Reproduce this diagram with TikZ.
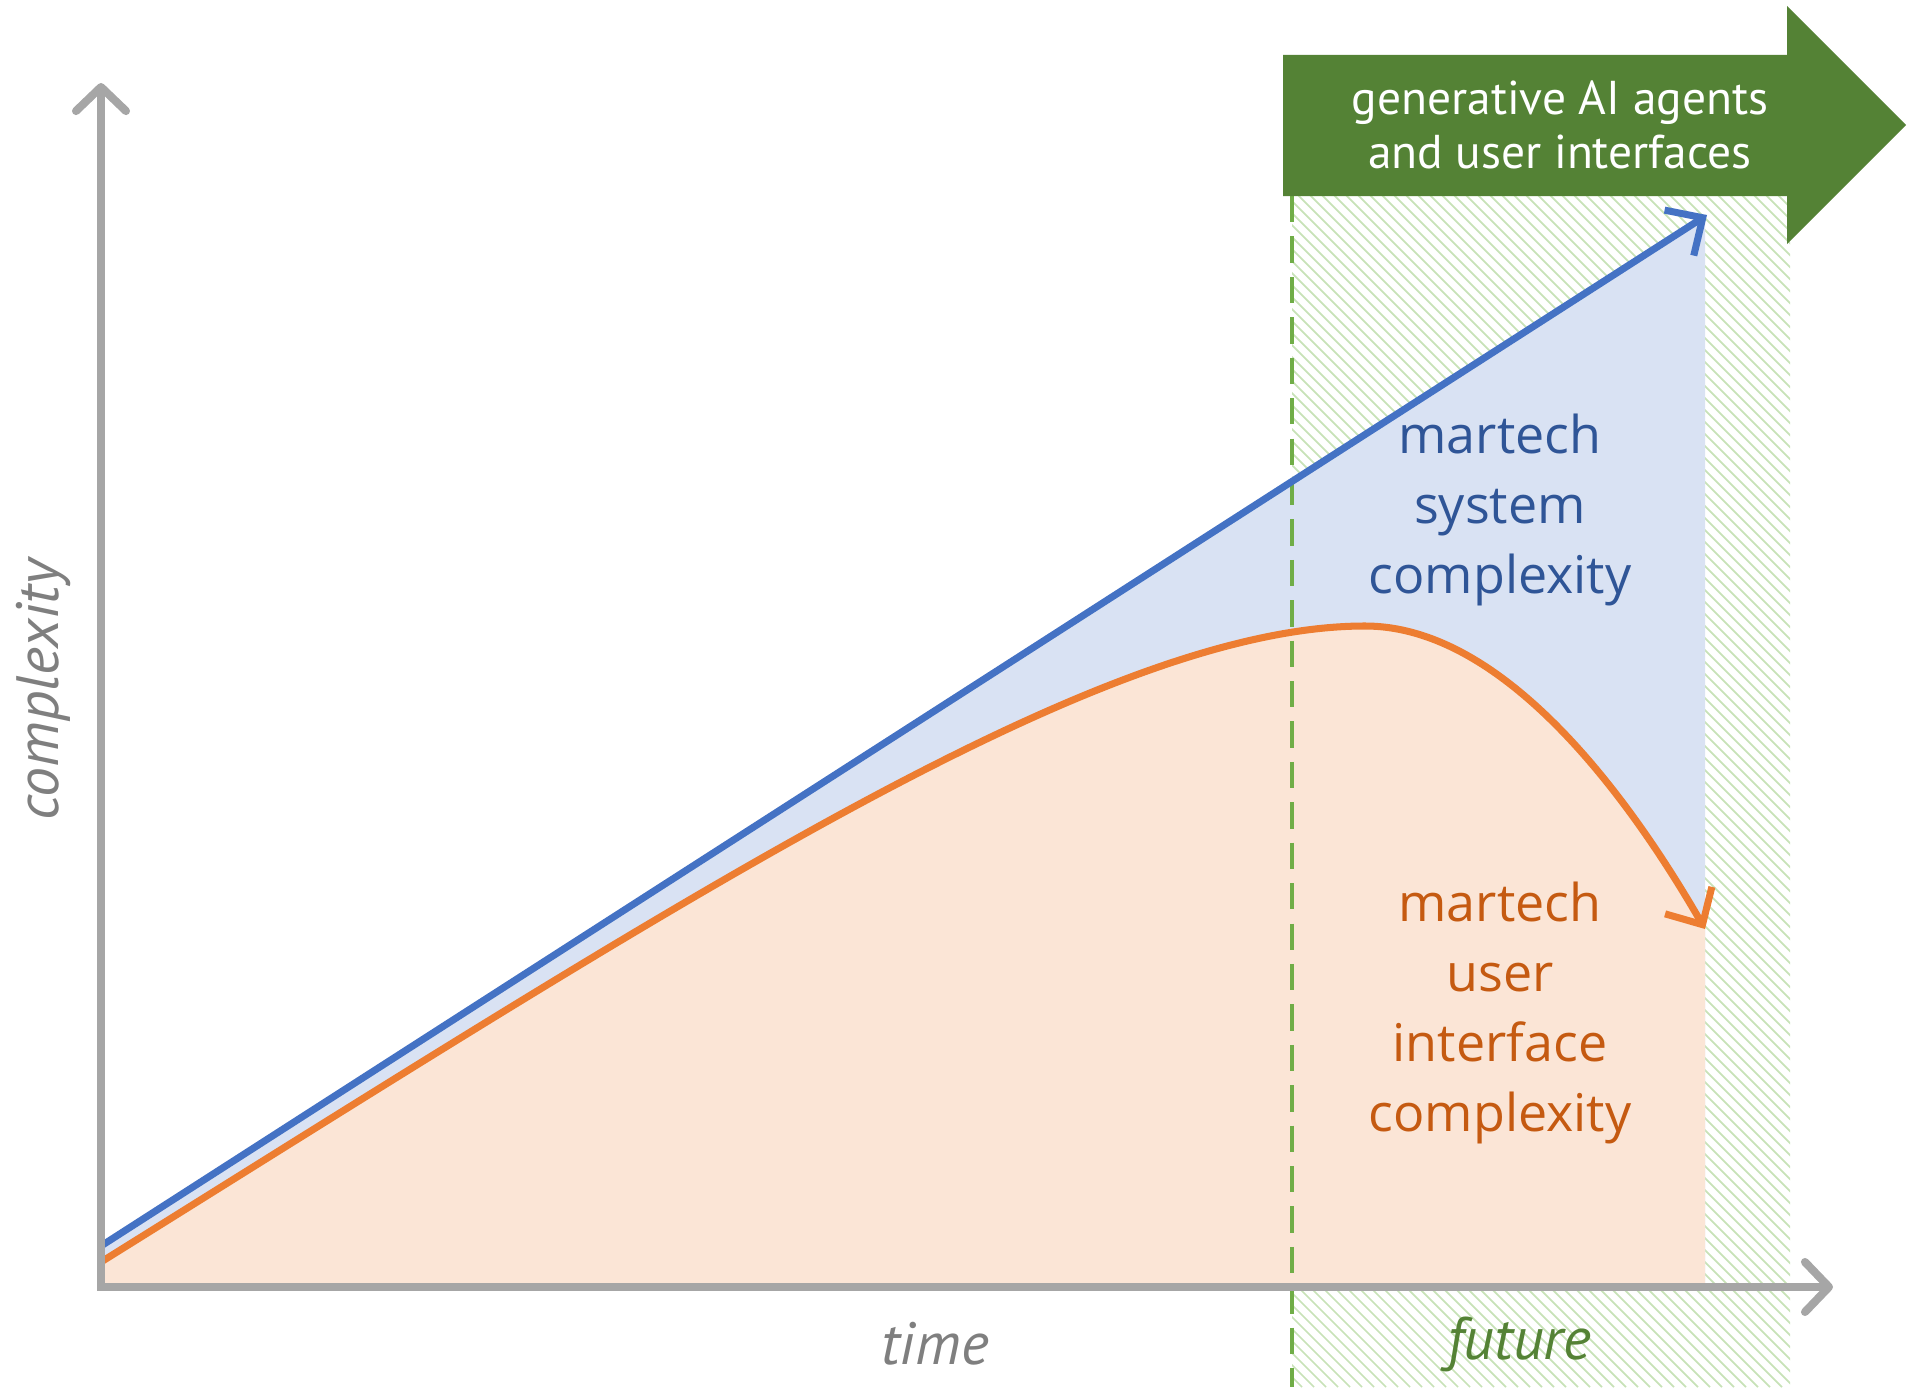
\documentclass[tikz,border=0pt]{standalone}
\usepackage{fontspec}
\setmainfont{Open Sans}
\newfontfamily\axfont{PT Sans}
\usetikzlibrary{arrows.meta}

\definecolor{sysblue}{RGB}{68,114,196}
\definecolor{sysfill}{RGB}{217,226,243}
\definecolor{sysdark}{RGB}{47,85,151}
\definecolor{uiorange}{RGB}{237,125,49}
\definecolor{uifill}{RGB}{251,229,214}
\definecolor{uidark}{RGB}{197,90,17}
\definecolor{axgray}{RGB}{166,166,166}
\definecolor{txtgray}{RGB}{127,127,127}
\definecolor{darkgreen}{RGB}{84,130,53}
\definecolor{dashgreen}{RGB}{112,173,71}
\definecolor{hatchgreen}{RGB}{200,226,184}

\begin{document}
\begin{tikzpicture}

\def\xr{17.05}
\tikzstyle{axisline} = [
	draw=axgray, line width=2.3pt, line cap=round,
	{Straight Barb[length=2.4mm,width=5mm,round]}-{Straight Barb[length=2.4mm,width=5mm,round]} ];
\tikzstyle{trend} = [line width=2pt, -{Straight Barb[length=2.8mm,width=5.4mm]}];
\tikzstyle{lbltext} = [align=center, font=\fontsize{14.8}{20}\selectfont];
\tikzstyle{axlbl} = [font=\axfont\itshape\fontsize{17}{20}\selectfont];
\useasboundingbox (0,0) rectangle (19.16,13.87);

\coordinate (o) at (1.01,1.00);
\coordinate (ytop) at (1.01,13.04);
\coordinate (xend) at (18.33,1.00);
\coordinate (bs) at (1.01,1.41);
\coordinate (be) at (17.07,11.72);
\coordinate (os) at (1.01,1.25);
\coordinate (op) at (13.65,7.61);
\coordinate (oe) at (\xr,4.58);

\begin{scope}
\clip (12.92,0) rectangle (17.90,11.91);
\foreach \i in {0,...,142}
	\draw[hatchgreen, line width=0.5pt] (12.9+0.12*\i,0) -- ++(-12,12);
\end{scope}

\fill[sysfill] (bs) -- (\xr,11.71) -- (\xr,1.00) -- (o) -- cycle;
\fill[uifill] (o) -- (os) .. controls (6.8,4.86) and (11.0,7.61) .. (op)
	.. controls (15.15,7.61) and (16.45,5.62) .. (oe) -- (\xr,1.00) -- cycle;

\draw[dashgreen, line width=1.4pt, dash pattern=on 7.5pt off 4pt] (12.92,11.91) -- (12.92,0);

\draw[trend, sysblue] (bs) -- (be);
\draw[trend, uiorange] (os) .. controls (6.8,4.86) and (11.0,7.61) .. (op)
	.. controls (15.15,7.61) and (16.45,5.62) .. (oe);

\draw[axisline] (ytop) -- (o) -- (xend);

\fill[darkgreen] (12.83,11.91) -- (17.87,11.91) -- (17.87,11.43) -- (19.06,12.62)
	-- (17.87,13.81) -- (17.87,13.32) -- (12.83,13.32) -- cycle;
\node[text=white, align=center, font=\axfont\fontsize{13.5}{15.4}\selectfont] (gen) at (15.60,12.62)
	{generative AI agents\\and user interfaces};

\node[lbltext, text=sysdark] (msys) at (15.00,8.77) {martech\\system\\complexity};
\node[lbltext, text=uidark] (mui) at (15.00,3.74) {martech\\user\\interface\\complexity};

\node[axlbl, text=txtgray] (ttime) at (9.35,0.43) {time};
\node[axlbl, text=darkgreen] (tfut) at (15.19,0.43) {future};
\node[axlbl, text=txtgray, rotate=90] (tcomp) at (0.43,6.97) {complexity};

\end{tikzpicture}
\end{document}
